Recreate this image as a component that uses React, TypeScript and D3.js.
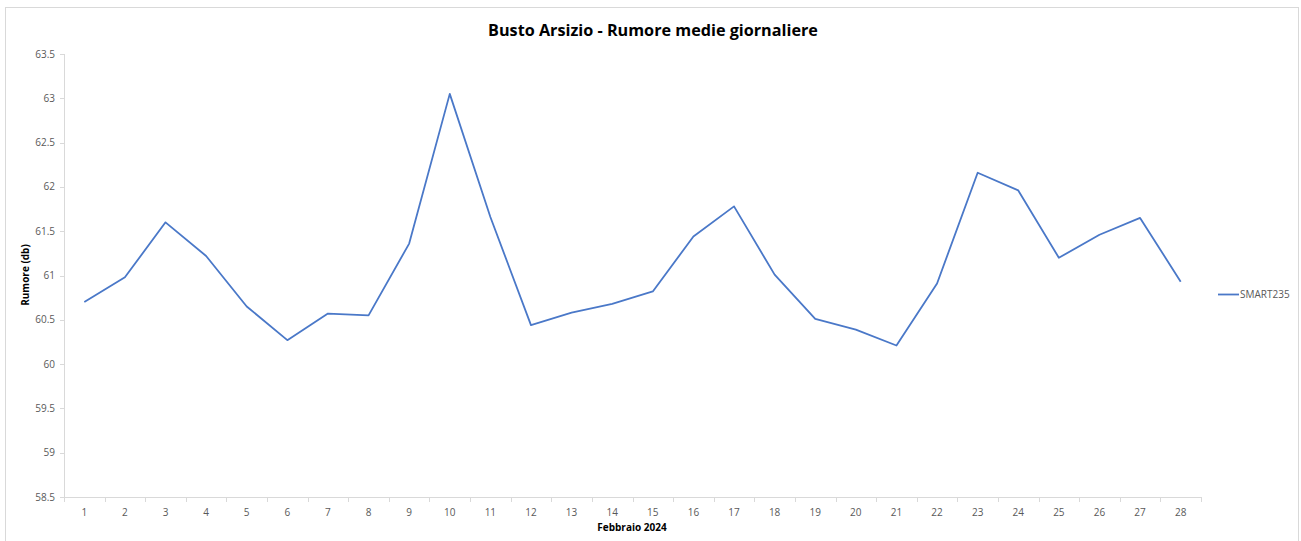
import React from "react";
import * as d3 from "d3";

const days: string[] = Array.from({ length: 28 }, (_, i) => String(i + 1));
const seriesName = "SMART235";
const smart235: number[] = [
  60.7, 60.98, 61.6, 61.22, 60.65, 60.27, 60.57, 60.55, 61.36, 63.05,
  61.66, 60.44, 60.58, 60.68, 60.82, 61.44, 61.78, 61.01, 60.51, 60.39,
  60.21, 60.91, 62.16, 61.96, 61.2, 61.46, 61.65, 60.93,
];
const yTicks: number[] = [58.5, 59, 59.5, 60, 60.5, 61, 61.5, 62, 62.5, 63, 63.5];

const W = 1301;
const H = 541;
const plot = { left: 64, right: 1201, top: 54, bottom: 497 };
const FONT = "'Open Sans', 'Liberation Sans', sans-serif";
const LINE = "#4a78c8";
const AXIS = "#d9d9d9";
const LABEL = "#595959";

export default function App() {
  const x = d3
    .scaleBand<string>()
    .domain(days)
    .range([plot.left, plot.right])
    .paddingInner(0)
    .paddingOuter(0);
  const y = d3.scaleLinear().domain([58.5, 63.5]).range([plot.bottom, plot.top]);

  const line = d3
    .line<number>()
    .x((_, i) => (x(days[i]) as number) + x.bandwidth() / 2)
    .y((d) => y(d));

  const boundaries = d3.range(days.length + 1).map((i) => plot.left + i * x.bandwidth());

  return (
    <svg
      width={W}
      height={H}
      style={{ position: "absolute", left: 0, top: 0, background: "#fff" }}
      fontFamily={FONT}
    >
      <rect x={5.5} y={7.5} width={1293} height={540} fill="#fff" stroke="#d9d9d9" strokeWidth={1} />

      <text
        x={653}
        y={36}
        textAnchor="middle"
        fontSize={16.2}
        fontWeight="bold"
        fill="#000"
      >
        Busto Arsizio - Rumore medie giornaliere
      </text>

      {/* y axis */}
      <line x1={plot.left + 0.5} x2={plot.left + 0.5} y1={plot.top} y2={plot.bottom} stroke={AXIS} />
      {yTicks.map((t) => (
        <g key={t}>
          <line x1={plot.left - 4} x2={plot.left} y1={Math.round(y(t)) + 0.5} y2={Math.round(y(t)) + 0.5} stroke={AXIS} />
          <text x={plot.left - 9} y={y(t)} dy="0.35em" textAnchor="end" fontSize={10} fill={LABEL}>
            {t}
          </text>
        </g>
      ))}

      {/* x axis */}
      <line x1={plot.left} x2={plot.right} y1={plot.bottom + 0.5} y2={plot.bottom + 0.5} stroke={AXIS} />
      {boundaries.map((bx, i) => (
        <line key={i} x1={Math.round(bx) + 0.5} x2={Math.round(bx) + 0.5} y1={plot.bottom} y2={plot.bottom + 5} stroke={AXIS} />
      ))}
      {days.map((d) => (
        <text
          key={d}
          x={(x(d) as number) + x.bandwidth() / 2}
          y={516}
          textAnchor="middle"
          fontSize={10}
          fill={LABEL}
        >
          {d}
        </text>
      ))}

      <text x={632} y={531} textAnchor="middle" fontSize={10} fontWeight="bold" fill="#000">
        Febbraio 2024
      </text>
      <text
        transform="translate(29,275) rotate(-90)"
        textAnchor="middle"
        fontSize={10}
        fontWeight="bold"
        fill="#000"
      >
        Rumore (db)
      </text>

      <path d={line(smart235) ?? ""} fill="none" stroke={LINE} strokeWidth={1.8} strokeLinejoin="round" />

      {/* legend */}
      <line x1={1218} x2={1239} y1={294.5} y2={294.5} stroke={LINE} strokeWidth={1.8} />
      <text x={1240} y={294.5} dy="0.35em" fontSize={10} fill={LABEL}>
        {seriesName}
      </text>
    </svg>
  );
}
